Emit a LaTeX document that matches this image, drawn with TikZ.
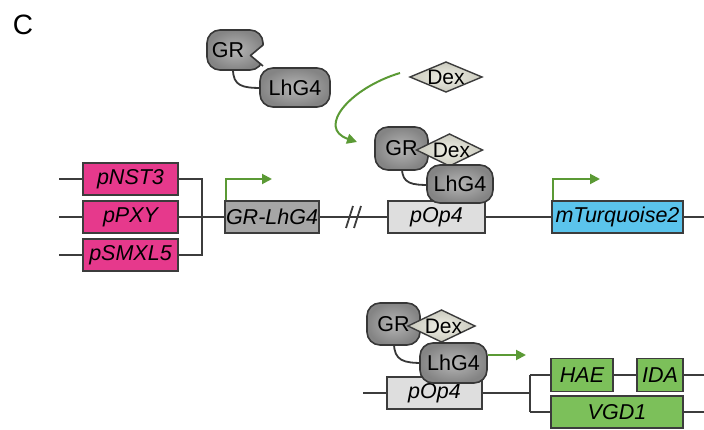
\documentclass[tikz,border=0pt]{standalone}
\usepackage{fontspec}
\setmainfont{Liberation Sans}
\usetikzlibrary{arrows.meta,shapes.geometric,calc}
\definecolor{outl}{RGB}{60,60,60}
\definecolor{pinkc}{RGB}{230,57,140}
\definecolor{grayc}{RGB}{166,166,166}
\definecolor{lightc}{RGB}{222,222,222}
\definecolor{turq}{RGB}{91,196,236}
\definecolor{greenc}{RGB}{124,192,90}
\definecolor{arrg}{RGB}{91,154,53}
\definecolor{blobl}{RGB}{55,55,55}
\definecolor{blobin}{RGB}{182,182,182}
\definecolor{blobout}{RGB}{132,132,132}
\definecolor{dexin}{RGB}{238,238,228}
\definecolor{dexout}{RGB}{202,202,190}
\newcommand\mydexshape[3]{%
  \shade[draw=outl, line width=1.4pt, inner color=dexin, outer color=dexout, line join=miter]
    ($(#1)+(-#2,0)$) -- ($(#1)+(0,-#3)$) -- ($(#1)+(#2,0)$) -- ($(#1)+(0,#3)$) -- cycle;}
\tikzset{
  gene/.style={draw=outl, line width=1.8pt, minimum height=32pt, inner sep=0pt,
    font=\fontsize{21.5}{24}\selectfont\itshape},
  wire/.style={draw=outl, line width=1.8pt},
  blob/.style={draw=blobl, line width=1.6pt, rounded corners=13pt, inner sep=0pt,
    inner color=blobin, outer color=blobout, font=\fontsize{21.5}{24}\selectfont},
  dextext/.style={inner sep=0pt, font=\fontsize{21}{24}\selectfont},
  linker/.style={draw=blobl, line width=1.8pt},
  garrow/.style={draw=arrg, line width=2pt, -{Triangle[length=10pt,width=10pt]}},
}
\begin{document}
\begin{tikzpicture}[x=1pt,y=-1pt]
\useasboundingbox (0,0) rectangle (704,430);
\node[font=\fontsize{28}{30}\selectfont] (lab) at (23,25) {C};

% ---------- top row coordinates
\coordinate (l1) at (59,179);
\coordinate (l2) at (59,217);
\coordinate (l3) at (59,255);
\coordinate (j1) at (202,179);
\coordinate (j3) at (202,255);
\coordinate (rend) at (704,217);

% wires
\draw[wire] (l1) -- (130,179);
\draw[wire] (l2) -- (130,217);
\draw[wire] (l3) -- (130,255);
\draw[wire] (130,179) -- (j1) -- (j3) -- (130,255);
\draw[wire] (130,217) -- (272,217) -- (436,217) -- (617,217) -- (rend);
\draw[wire] (346,228) -- (353,206);
\draw[wire] (354,228) -- (361,206);

% boxes
\node[gene, fill=pinkc, minimum width=95pt] (n1) at (130.5,179) {pNST3};
\node[gene, fill=pinkc, minimum width=95pt] (n2) at (130.5,217) {pPXY};
\node[gene, fill=pinkc, minimum width=95pt] (n3) at (130.5,255) {pSMXL5};
\node[gene, fill=grayc, minimum width=94pt] (grl) at (272,217) {GR-LhG4};
\node[gene, fill=lightc, minimum width=97pt] (pop) at (436.5,217) {pOp4};
\node[gene, fill=turq, minimum width=131pt] (mt) at (617.5,217) {mTurquoise2};

% promoter arrows
\coordinate (a1) at (272,179);
\coordinate (a2) at (600,179);
\draw[garrow] ($(grl.north west)+(1.5,0)$) |- (a1);
\draw[garrow] ($(mt.north west)+(1.5,0)$) |- (a2);

% ---------- free GR-LhG4 protein
\coordinate (lk1a) at (233,69);
\coordinate (lk1b) at (262,88);
\draw[linker] (lk1a) .. controls (233,86) and (242,88) .. (lk1b);
\begin{scope}[even odd rule]
  \clip (190,20) rectangle (280,80) (268,42) -- (250,55.5) -- (268,69) -- cycle;
  \shade[draw=blobl, line width=1.6pt, rounded corners=13pt, inner color=blobin, outer color=blobout]
    (207,30) rectangle (263,70);
\end{scope}
\draw[draw=blobl, line width=1.6pt, line join=round] (263,45) -- (250.5,55.5) -- (263,66);
\node[font=\fontsize{21.5}{24}\selectfont] (gr1) at (228,50) {GR};
\node[blob, minimum width=70pt, minimum height=39pt] (lh1) at (295,87.5) {LhG4};

% free Dex and arrow
\coordinate (dex1) at (446,77);
\mydexshape{dex1}{36}{15}
\node[dextext] (dex1t) at (dex1) {Dex};
\coordinate (cs) at (400,73);
\coordinate (ce) at (357,142);
\draw[garrow] (cs) .. controls (350,88) and (316,128) .. (ce);

% ---------- bound complex (middle)
\draw[linker] (402,168) .. controls (402,184) and (412,185) .. (430,185);
\node[blob, minimum width=53pt, minimum height=43pt] (gr2) at (401.5,148.5) {GR};
\coordinate (dex2) at (449.5,150);
\mydexshape{dex2}{33}{16}
\node[dextext] (dex2t) at ($(dex2)+(2,0)$) {Dex};
\node[blob, minimum width=66pt, minimum height=38pt] (lh2) at (460,184) {LhG4};

% ---------- bottom row
\coordinate (bl) at (363,393);
\coordinate (bj1) at (530,375);
\coordinate (bj2) at (530,412);
\coordinate (br1) at (704,375);
\coordinate (br2) at (704,412);
\draw[wire] (bl) -- (530,393);
\draw[wire] (bj1) -- (bj2);
\draw[wire] (bj1) -- (br1);
\draw[wire] (bj2) -- (br2);
\node[gene, fill=lightc, minimum width=95pt] (popb) at (434.5,393) {pOp4};
\node[gene, fill=greenc, minimum width=62pt, minimum height=33pt] (hae) at (582,375) {HAE};
\node[gene, fill=greenc, minimum width=46pt, minimum height=33pt] (ida) at (660,375) {IDA};
\node[gene, fill=greenc, minimum width=132pt] (vgd) at (617,412) {VGD1};

\draw[linker] (394,343) .. controls (394,361) and (404,363) .. (423,363);
\node[blob, minimum width=53pt, minimum height=42pt] (gr3) at (393.5,324) {GR};
\coordinate (dex3) at (441.5,326);
\mydexshape{dex3}{33.5}{16}
\node[dextext] (dex3t) at ($(dex3)+(2,0)$) {Dex};
\node[blob, minimum width=67pt, minimum height=40pt] (lh3) at (453.5,363) {LhG4};
\coordinate (ba) at (526,355);
\draw[garrow] (lh3.east |- ba) -- (ba);
\end{tikzpicture}
\end{document}
